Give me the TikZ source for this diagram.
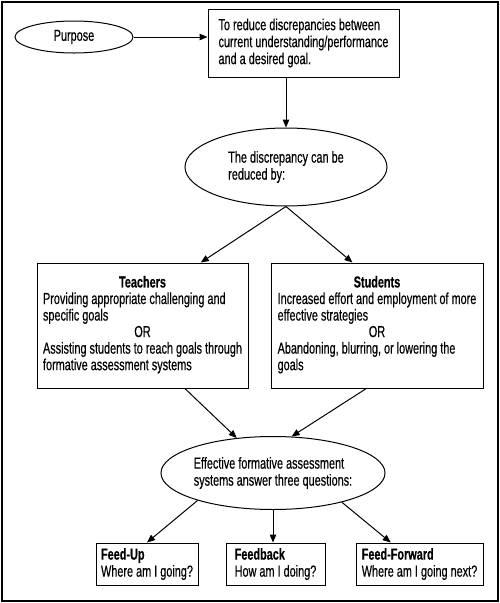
\documentclass[tikz,border=0pt]{standalone}
\usepackage{fontspec}
\setmainfont[FakeStretch=0.68, FakeBold=0.4]{Liberation Sans}
\usetikzlibrary{shapes.geometric,arrows.meta,calc}
\tikzset{
  txt/.style={font=\fontsize{16}{17}\selectfont},
  boxnode/.style={draw, line width=1pt, txt, inner sep=0pt},
  ellnode/.style={draw, ellipse, line width=1pt, txt, inner sep=0pt, align=left},
  arr/.style={line width=1pt, -{Triangle[length=8pt,width=6.5pt]}}
}
\begin{document}
\begin{tikzpicture}[x=1pt,y=-1pt]
\useasboundingbox (0,0) rectangle (500,603);
\draw[line width=1.2pt] (2,2) rectangle (498,601);

\node[ellnode, minimum width=118pt, minimum height=32pt] (purpose) at (74,37) {Purpose};
\node[boxnode, minimum width=191pt, minimum height=68pt, align=left] (top) at (303.5,43)
  {To reduce discrepancies between\\current understanding/performance\\and a desired goal.};
\node[ellnode, minimum width=202pt, minimum height=78pt] (disc) at (286,167)
  {The discrepancy can be\\reduced by:};

\node[boxnode, minimum width=211pt, minimum height=125pt, font=\fontsize{16}{16.5}\selectfont] (teach) at (142.5,325.5)
  {\begin{tabular}{@{}l@{}}\multicolumn{1}{@{}c@{}}{\textbf{Teachers}}\\Providing appropriate challenging and\\specific goals\\\multicolumn{1}{@{}c@{}}{OR}\\Assisting students to reach goals through\\formative assessment systems\end{tabular}};
\node[boxnode, minimum width=212pt, minimum height=125pt, font=\fontsize{16}{16.5}\selectfont] (stud) at (377,325.5)
  {\begin{tabular}{@{}l@{}}\multicolumn{1}{@{}c@{}}{\textbf{Students}}\\Increased effort and employment of more\\effective strategies\\\multicolumn{1}{@{}c@{}}{OR}\\Abandoning, blurring, or lowering the\\goals\end{tabular}};

\node[ellnode, minimum width=200pt, minimum height=73pt] (eff) at (273,473)
  {Effective formative assessment\\systems answer three questions:};

\node[boxnode, minimum width=102pt, minimum height=42pt, align=left] (fu) at (147,564)
  {\textbf{Feed-Up}\\Where am I going?};
\node[boxnode, minimum width=99pt, minimum height=42pt, align=left] (fb) at (275.5,564)
  {\textbf{Feedback}\\How am I doing?};
\node[boxnode, minimum width=127pt, minimum height=42pt, align=left] (ff) at (419.5,564)
  {\textbf{Feed-Forward}\\Where am I going next?};

\draw[arr] (purpose.east) -- (purpose.east -| top.west);
\draw[arr] (disc.north |- top.south) -- (disc.north);
\draw[arr] (disc.south) -- ($(teach.north)!0.55!(teach.north east)$);
\draw[arr] (disc.south) -- ($(stud.north)!0.23!(stud.north west)$);
\draw[arr] ($(teach.south)!0.4!(teach.south east)$) -- (eff.136);
\draw[arr] ($(stud.south)!0.1!(stud.south west)$) -- (eff.63);
\draw[arr] (eff.200) -- (fu.north);
\draw[arr] (eff.south) -- (eff.south |- fb.north);
\draw[arr] (eff.-23) -- ($(ff.north)!0.45!(ff.north west)$);
\end{tikzpicture}
\end{document}
